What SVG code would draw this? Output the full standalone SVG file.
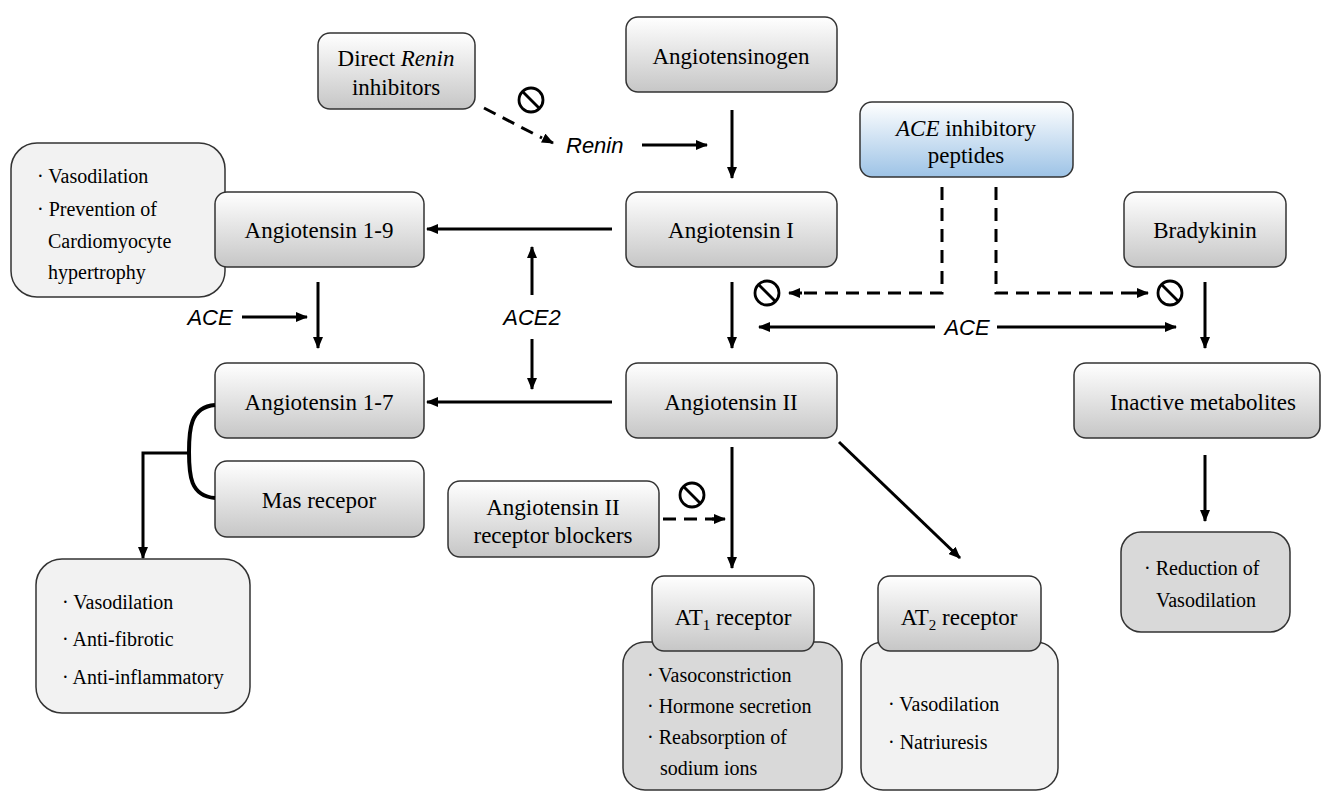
<svg xmlns="http://www.w3.org/2000/svg" width="1324" height="792" viewBox="0 0 1324 792">
<defs>
<linearGradient id="g" x1="0" y1="0" x2="0" y2="1">
<stop offset="0" stop-color="#ffffff"/>
<stop offset="1" stop-color="#c6c6c6"/>
</linearGradient>
<linearGradient id="gb" x1="0" y1="0" x2="0" y2="1">
<stop offset="0" stop-color="#ffffff"/>
<stop offset="1" stop-color="#9dc3e6"/>
</linearGradient>
<marker id="ah" viewBox="0 0 12 10" refX="11" refY="5" markerWidth="12" markerHeight="10" markerUnits="userSpaceOnUse" orient="auto-start-reverse">
<path d="M0,0 L12,5 L0,10 z" fill="#000"/>
</marker>
<g id="no">
<circle cx="0" cy="0" r="12" fill="none" stroke="#000" stroke-width="2.8"/>
<line x1="-8.5" y1="-8.5" x2="8.5" y2="8.5" stroke="#000" stroke-width="2.8"/>
</g>
</defs>
<style>
.n{fill:url(#g);stroke:#333;stroke-width:1.5}
.lt{fill:#f2f2f2;stroke:#333;stroke-width:1.5}
.dk{fill:#d9d9d9;stroke:#333;stroke-width:1.5}
.t{font-family:"Liberation Serif","Times New Roman",serif;font-size:23px;fill:#000;text-anchor:middle}
.b{font-family:"Liberation Serif","Times New Roman",serif;font-size:20px;fill:#000}
.s{font-family:"Liberation Sans",Arial,sans-serif;font-style:italic;font-size:22px;fill:#000}
.a{fill:none;stroke:#000;stroke-width:3;marker-end:url(#ah)}
.d{fill:none;stroke:#000;stroke-width:3;stroke-dasharray:13 8}
</style>
<rect width="1324" height="792" fill="#fff"/>

<g id="effects-19">
<rect class="lt" x="11" y="143" width="214" height="154" rx="26"/>
<text class="b" x="37" y="183">· Vasodilation</text>
<text class="b" x="37" y="216">· Prevention of</text>
<text class="b" x="48" y="248">Cardiomyocyte</text>
<text class="b" x="48" y="279">hypertrophy</text>
</g>
<g id="direct-renin">
<rect class="n" x="318" y="33" width="157" height="76" rx="12"/>
<text class="t" x="396" y="66">Direct <tspan font-style="italic">Renin</tspan></text>
<text class="t" x="396" y="95">inhibitors</text>
</g>
<g id="angiotensinogen">
<rect class="n" x="626" y="17" width="211" height="75" rx="12"/>
<text class="t" x="731" y="64">Angiotensinogen</text>
</g>
<g id="ace-inhib">
<rect x="860" y="102" width="213" height="75" rx="12" fill="url(#gb)" stroke="#333" stroke-width="1.5"/>
<text class="t" x="966" y="136"><tspan font-style="italic">ACE</tspan> inhibitory</text>
<text class="t" x="966" y="163">peptides</text>
</g>
<g id="ang19">
<rect class="n" x="215" y="192" width="209" height="75" rx="12"/>
<text class="t" x="319" y="238">Angiotensin 1-9</text>
</g>
<g id="ang1">
<rect class="n" x="626" y="192" width="211" height="75" rx="12"/>
<text class="t" x="731" y="238">Angiotensin I</text>
</g>
<g id="bradykinin">
<rect class="n" x="1124" y="192" width="162" height="75" rx="12"/>
<text class="t" x="1205" y="238">Bradykinin</text>
</g>
<g id="ang17">
<rect class="n" x="215" y="363" width="209" height="75" rx="12"/>
<text class="t" x="319" y="410">Angiotensin 1-7</text>
</g>
<g id="ang2">
<rect class="n" x="626" y="363" width="211" height="75" rx="12"/>
<text class="t" x="731" y="410">Angiotensin II</text>
</g>
<g id="inactive">
<rect class="n" x="1074" y="363" width="246" height="75" rx="12"/>
<text class="t" x="1203" y="410">Inactive metabolites</text>
</g>
<g id="mas">
<rect class="n" x="215" y="461" width="209" height="76" rx="12"/>
<text class="t" x="319" y="508">Mas recepor</text>
</g>
<g id="arb">
<rect class="n" x="448" y="481" width="211" height="76" rx="12"/>
<text class="t" x="553" y="515">Angiotensin II</text>
<text class="t" x="553" y="543">receptor blockers</text>
</g>
<g id="effects-17">
<rect class="lt" x="36" y="559" width="214" height="154" rx="26"/>
<text class="b" x="62" y="609">· Vasodilation</text>
<text class="b" x="62" y="646">· Anti-fibrotic</text>
<text class="b" x="62" y="684">· Anti-inflammatory</text>
</g>
<g id="at1-effects">
<rect class="dk" x="623" y="642" width="219" height="148" rx="22"/>
<text class="b" x="647" y="682">· Vasoconstriction</text>
<text class="b" x="647" y="713">· Hormone secretion</text>
<text class="b" x="647" y="744">· Reabsorption of</text>
<text class="b" x="660" y="775">sodium ions</text>
</g>
<g id="at1">
<rect class="n" x="652" y="576" width="162" height="75" rx="12"/>
<text class="t" x="733" y="625">AT<tspan font-size="15" dy="5">1</tspan><tspan dy="-5"> receptor</tspan></text>
</g>
<g id="at2-effects">
<rect class="lt" x="861" y="642" width="197" height="148" rx="22"/>
<text class="b" x="888" y="711">· Vasodilation</text>
<text class="b" x="888" y="749">· Natriuresis</text>
</g>
<g id="at2">
<rect class="n" x="878" y="576" width="163" height="75" rx="12"/>
<text class="t" x="959" y="625">AT<tspan font-size="15" dy="5">2</tspan><tspan dy="-5"> receptor</tspan></text>
</g>
<g id="reduction">
<rect class="dk" x="1121" y="532" width="169" height="100" rx="20"/>
<text class="b" x="1144" y="575">· Reduction of</text>
<text class="b" x="1156" y="607">Vasodilation</text>
</g>

<g id="connectors">
<path class="a" d="M642,145 H707"/>
<path class="a" d="M732,110 V178"/>
<path class="d" d="M484,108 L542,138" />
<path class="a" d="M545,139 L553,143" stroke-dasharray="none"/>
<path class="a" d="M612,229 H427"/>
<path class="a" d="M532,295 V247"/>
<path class="a" d="M532,339 V389"/>
<path class="a" d="M318,282 V348"/>
<path class="a" d="M242,317 H307"/>
<path class="a" d="M612,402 H427"/>
<path class="a" d="M732,282 V348"/>
<path class="d" d="M942,187 V293 H800"/>
<path class="a" d="M802,293 H789"/>
<path class="d" d="M996,187 V293 H1136"/>
<path class="a" d="M1134,293 H1148"/>
<path class="a" d="M935,327 H759" />
<path class="a" d="M997,327 H1176"/>
<path class="a" d="M1205,282 V348"/>
<path class="a" d="M732,447 V568"/>
<path class="a" d="M839,442 L960,558"/>
<path class="d" d="M663,519 H714"/>
<path class="a" d="M712,519 H725"/>
<path class="a" d="M1205,455 V521"/>
<path d="M215,405 C190,407 189,430 189,452 C189,475 190,496 215,498" fill="none" stroke="#000" stroke-width="4"/>
<path class="a" d="M189,453 H143 V558"/>
</g>

<g id="labels">
<text class="s" x="566" y="153">Renin</text>
<text class="s" x="210" y="325" text-anchor="middle">ACE</text>
<text class="s" x="532" y="325" text-anchor="middle">ACE2</text>
<text class="s" x="967" y="335" text-anchor="middle">ACE</text>
</g>
<g id="inhibition">
<use href="#no" x="531" y="100"/>
<use href="#no" x="767" y="293"/>
<use href="#no" x="1170" y="293"/>
<use href="#no" x="692" y="495"/>
</g>
</svg>
